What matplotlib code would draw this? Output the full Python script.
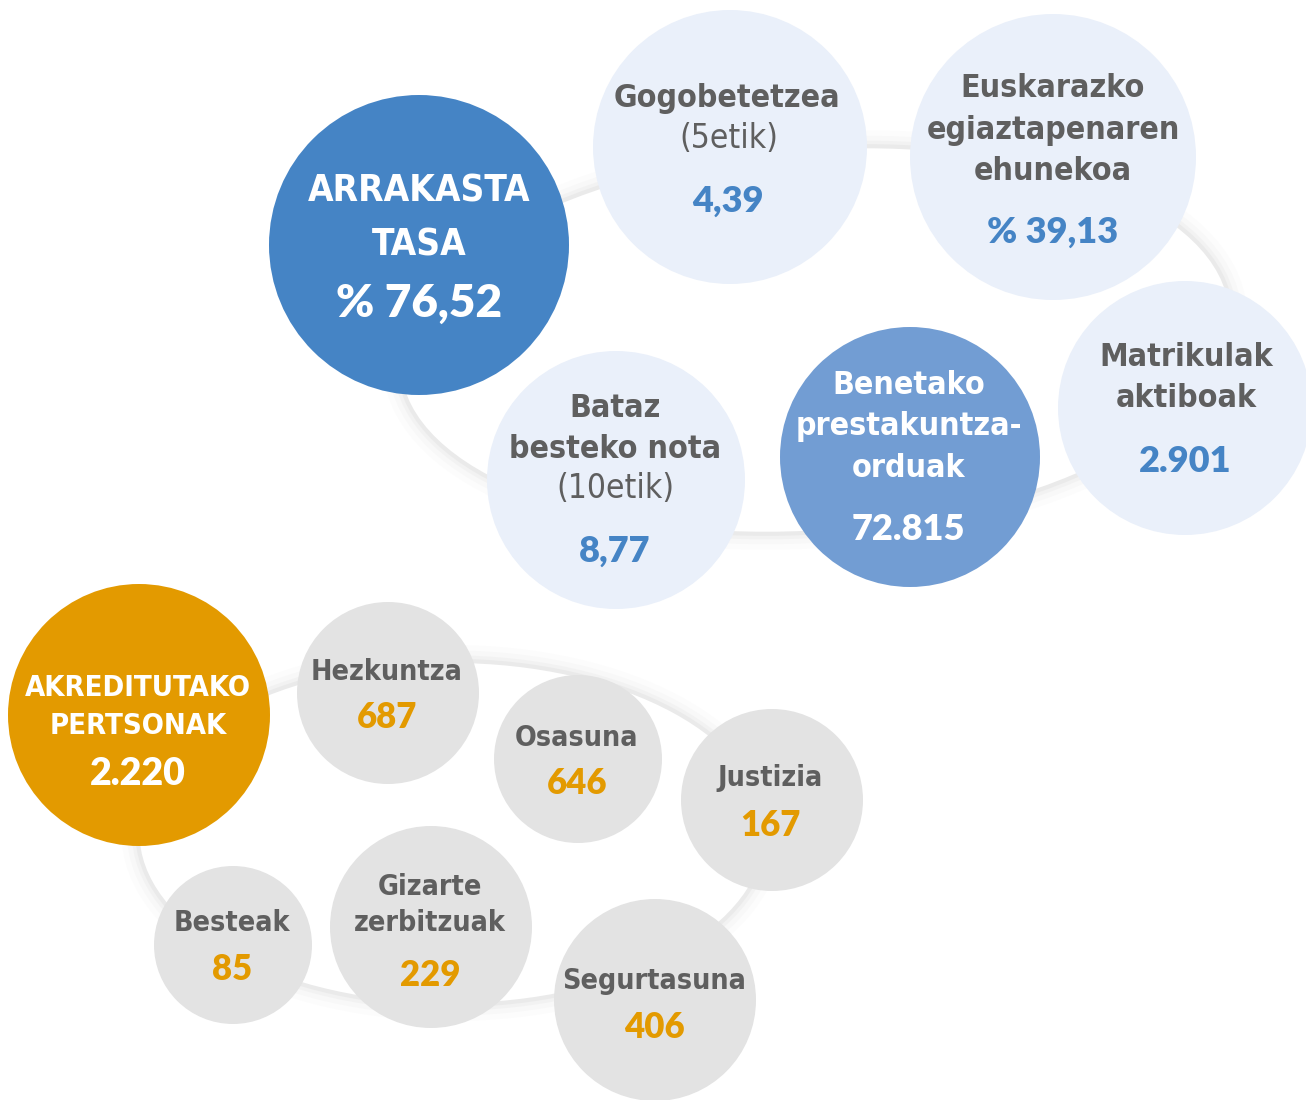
import matplotlib.pyplot as plt
from matplotlib.patches import Circle, Ellipse
from matplotlib import font_manager as fm

# --- data ---------------------------------------------------------------
top_titles = ['ARRAKASTA\nTASA', 'Gogobetetzea', 'Euskarazko\negiaztapenaren\nehunekoa',
              'Matrikulak\naktiboak', 'Benetako\nprestakuntza-\norduak', 'Bataz\nbesteko nota']
top_notes = ['', '(5etik)', '', '', '', '(10etik)']
top_values = ['% 76,52', '4,39', '% 39,13', '2.901', '72.815', '8,77']

sector_names = ['AKREDITUTAKO\nPERTSONAK', 'Hezkuntza', 'Osasuna', 'Justizia',
                'Segurtasuna', 'Gizarte\nzerbitzuak', 'Besteak']
sector_values = ['2.220', '687', '646', '167', '406', '229', '85']

# --- layout (pixels) ----------------------------------------------------
top_xy = [(419, 245), (730, 147), (1053, 157), (1185, 408), (910, 457), (616, 480)]
top_r = [150, 137, 143, 127, 130, 129]
sector_xy = [(139, 715), (388, 693), (578, 759), (772, 800), (655, 1000), (431, 927), (233, 945)]
sector_r = [131, 91, 84, 91, 101, 101, 79]

BLUE = '#4584c5'
MID_BLUE = '#729dd3'
PALE = '#eaf0fa'
ORANGE = '#e39a00'
GREY = '#e3e3e3'
TXT = '#5f5f5f'


def narrow_font(bold):
    # look for an installed condensed face, fall back to DejaVu Sans
    want = (600, 700, 800, 'bold', 'semibold', 'demibold') if bold else (400, 'normal', 'regular', 'book')
    for f in fm.fontManager.ttflist:
        cond = ('Narrow' in f.name or 'Condensed' in f.name
                or str(f.stretch) in ('condensed', 'semi-condensed', 'extra-condensed'))
        if cond and f.weight in want and f.style == 'normal':
            return dict(fname=f.fname)
    return dict(family='DejaVu Sans', weight='bold' if bold else 'normal')


NB = narrow_font(True)
NR = narrow_font(False)


def fp(spec, size):
    return fm.FontProperties(size=size, **spec)


VALUE = dict(family='Lato', weight='heavy')

fig = plt.figure(figsize=(13.06, 11), dpi=100)
ax = fig.add_axes([0, 0, 1, 1])
ax.set_xlim(0, 1306)
ax.set_ylim(1100, 0)
ax.set_aspect('equal')
ax.axis('off')


def soft_ring(cx, cy, w, h, angle=0):
    # faint blurred outline behind the bubbles
    for lw, a in [(26, 0.05), (18, 0.08), (11, 0.12), (6, 0.2)]:
        ax.add_patch(Ellipse((cx, cy), w, h, angle=angle, fill=False,
                             edgecolor='#cccccc', lw=lw, alpha=a, zorder=1))
    ax.add_patch(Ellipse((cx, cy), w, h, angle=angle, facecolor='white',
                         edgecolor='none', zorder=1.5))


soft_ring(815, 340, 830, 380, angle=-4)
soft_ring(452, 833, 625, 340, angle=0)

# top group
for i, (xy, r) in enumerate(zip(top_xy, top_r)):
    fc = BLUE if i == 0 else MID_BLUE if i == 4 else PALE
    ax.add_patch(Circle(xy, r, facecolor=fc, edgecolor='none', zorder=3))

title_pos = [(419, 218), (727, 99), (1053, 130), (1186, 378), (909, 427), (615, 429)]
note_pos = [None, (729, 138), None, None, None, (615, 489)]
value_pos = [(419, 304), (728, 201), (1053, 232), (1185, 462), (908, 530), (615, 551)]
for i in range(len(top_titles)):
    tc = 'white' if i in (0, 4) else TXT
    vc = 'white' if i in (0, 4) else BLUE
    big = i == 0
    ax.text(*title_pos[i], top_titles[i], ha='center', va='center', color=tc,
            fontproperties=fp(NB, 26.5 if big else 23),
            linespacing=1.6 if big else 1.42, zorder=4)
    if top_notes[i]:
        ax.text(*note_pos[i], top_notes[i], ha='center', va='center', color=TXT,
                fontproperties=fp(NR, 24), zorder=4)
    ax.text(*value_pos[i], top_values[i], ha='center', va='center', color=vc,
            fontsize=33 if big else 26, zorder=4, **VALUE)

# bottom group
name_pos = [(138, 707), (387, 672), (577, 738), (770, 778), (654, 981), (430, 905), (232, 923)]
val_pos = [(138, 774), (387, 718), (577, 783), (770, 825), (654, 1027), (430, 975), (232, 970)]
for i, (xy, r) in enumerate(zip(sector_xy, sector_r)):
    main = i == 0
    ax.add_patch(Circle(xy, r, facecolor=ORANGE if main else GREY,
                        edgecolor='none', zorder=3))
    ax.text(*name_pos[i], sector_names[i], ha='center', va='center',
            color='white' if main else TXT, fontproperties=fp(NB, 21 if main else 20.5),
            linespacing=1.5 if main else 1.32, zorder=4)
    ax.text(*val_pos[i], sector_values[i], ha='center', va='center',
            color='white' if main else ORANGE, fontsize=27 if main else 25,
            zorder=4, **VALUE)

fig.savefig('out.png', dpi=100)
